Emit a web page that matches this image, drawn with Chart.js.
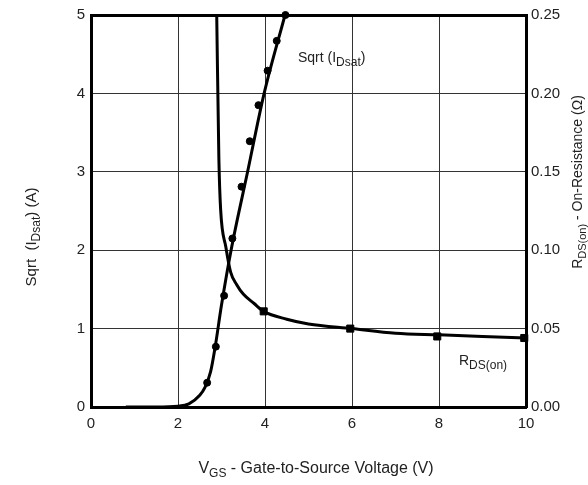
<!DOCTYPE html>
<html>
<head>
<meta charset="utf-8">
<script src="https://cdn.jsdelivr.net/npm/chart.js@4"></script>
<style>
  body { margin: 0; background: #fff; }
  canvas { display: block; }
</style>
</head>
<body>
<canvas id="myChart" width="588" height="485"></canvas>
<script>
let ctx = document.getElementById("myChart").getContext("2d");

// sqrt(I_Dsat) fitted curve (left axis)
let sqrtLineX = [0.8, 1.5, 2.0, 2.25, 2.5, 2.62, 2.75, 2.85, 3.0, 3.22, 3.6, 3.98, 4.46];
let sqrtLineY = [0, 0, 0.01, 0.04, 0.15, 0.25, 0.45, 0.75, 1.3, 2.0, 3.0, 4.0, 5.0];
// sqrt(I_Dsat) measured dots
let sqrtDotX = [2.67, 2.87, 3.06, 3.25, 3.46, 3.65, 3.85, 4.06, 4.27, 4.47];
let sqrtDotY = [0.31, 0.77, 1.42, 2.15, 2.81, 3.39, 3.85, 4.29, 4.67, 5.0];
// R_DS(on) curve (right axis)
let rdsLineX = [2.89, 2.94, 2.98, 3.1, 3.21, 3.35, 3.5, 3.75, 3.97, 4.5, 5, 6, 7, 8, 9, 10];
let rdsLineY = [0.25, 0.158, 0.126, 0.102, 0.086, 0.078, 0.072, 0.066, 0.061, 0.056, 0.053, 0.05, 0.047, 0.046, 0.045, 0.044];
// R_DS(on) square markers
let rdsDotX = [3.97, 5.96, 7.96, 9.96];
let rdsDotY = [0.061, 0.05, 0.045, 0.044];

let xTicks = [0, 2, 4, 6, 8, 10];

function pts(xs, ys) {
  return xs.map((x, i) => ({ x: x, y: ys[i] }));
}

const FONT = "Liberation Sans, Arial, sans-serif";

// draws text made of normal and subscript parts, centred on x
function drawRich(c, parts, x, y, size, subSize) {
  let w = 0;
  parts.forEach(p => {
    c.font = (p.sub ? subSize : size) + "px " + FONT;
    w += c.measureText(p.t).width;
  });
  let cx = x - w / 2;
  parts.forEach(p => {
    c.font = (p.sub ? subSize : size) + "px " + FONT;
    c.fillText(p.t, cx, p.sub ? y + 4 : y);
    cx += c.measureText(p.t).width;
  });
  return w;
}

// same but starting at x
function drawRichLeft(c, parts, x, y, size, subSize) {
  let w = 0;
  parts.forEach(p => {
    c.font = (p.sub ? subSize : size) + "px " + FONT;
    w += c.measureText(p.t).width;
  });
  drawRich(c, parts, x + w / 2, y, size, subSize);
}

const labelsPlugin = {
  id: "labels",
  afterDraw(chart) {
    let c = chart.ctx;
    c.save();
    c.fillStyle = "#222";
    c.textBaseline = "alphabetic";
    c.textAlign = "left";
    // curve labels
    drawRichLeft(c, [{ t: "Sqrt (I" }, { t: "Dsat", sub: true }, { t: ")" }], 298, 62, 14, 12);
    drawRichLeft(c, [{ t: "R" }, { t: "DS(on)", sub: true }], 459, 365, 14, 12);
    // x title
    drawRich(c, [{ t: "V" }, { t: "GS", sub: true }, { t: " - Gate-to-Source Voltage (V)" }], 316, 473, 16, 12);
    // left title
    c.save();
    c.translate(36, 237);
    c.rotate(-Math.PI / 2);
    drawRich(c, [{ t: "Sqrt  (I" }, { t: "Dsat", sub: true }, { t: ") (A)" }], 0, 0, 15, 12);
    c.restore();
    // right title
    c.save();
    c.translate(582, 182);
    c.rotate(-Math.PI / 2);
    drawRich(c, [{ t: "R" }, { t: "DS(on)", sub: true }, { t: " - On-Resistance (\u03A9)" }], 0, 0, 14, 11);
    c.restore();
    c.restore();
  }
};

let myChart = new Chart(ctx, {
  type: "line",
  data: {
    datasets: [
      {
        data: pts(sqrtLineX, sqrtLineY),
        yAxisID: "y",
        borderColor: "#000",
        borderWidth: 3,
        pointRadius: 0,
        cubicInterpolationMode: "monotone"
      },
      {
        type: "scatter",
        data: pts(sqrtDotX, sqrtDotY),
        yAxisID: "y",
        backgroundColor: "#000",
        borderColor: "#000",
        pointRadius: 3.5,
        clip: false
      },
      {
        data: pts(rdsLineX, rdsLineY),
        yAxisID: "y1",
        borderColor: "#000",
        borderWidth: 3,
        pointRadius: 0,
        cubicInterpolationMode: "monotone"
      },
      {
        type: "scatter",
        data: pts(rdsDotX, rdsDotY),
        yAxisID: "y1",
        backgroundColor: "#000",
        borderColor: "#000",
        pointStyle: "rect",
        pointRadius: 5,
        clip: false
      }
    ]
  },
  options: {
    responsive: false,
    animation: false,
    layout: { padding: { top: 15, left: 0, right: 0, bottom: 0 } },
    plugins: { legend: { display: false }, tooltip: { enabled: false } },
    scales: {
      x: {
        type: "linear",
        min: 0,
        max: 10,
        afterBuildTicks: s => { s.ticks = xTicks.map(v => ({ value: v })); },
        ticks: { padding: 8, color: "#222", font: { family: FONT, size: 15 } },
        grid: { color: "#333", lineWidth: 1, drawTicks: false },
        border: { color: "#000", width: 3 },
        afterFit: s => { s.height = 78; }
      },
      y: {
        position: "left",
        min: 0,
        max: 5,
        ticks: { stepSize: 1, padding: 6, color: "#222", font: { family: FONT, size: 15 } },
        grid: {
          drawTicks: false,
          color: c => (c.tick && c.tick.value === 5 ? "#000" : "#333"),
          lineWidth: c => (c.tick && c.tick.value === 5 ? 3 : 1)
        },
        border: { color: "#000", width: 3 },
        afterFit: s => { s.width = 91; }
      },
      y1: {
        position: "right",
        min: 0,
        max: 0.25,
        ticks: {
          stepSize: 0.05,
          padding: 5,
          color: "#222",
          font: { family: FONT, size: 15 },
          callback: v => v.toFixed(2)
        },
        grid: { drawOnChartArea: false, drawTicks: false },
        border: { color: "#000", width: 3 },
        afterFit: s => { s.width = 62; }
      }
    }
  },
  plugins: [labelsPlugin]
});
</script>
</body>
</html>
